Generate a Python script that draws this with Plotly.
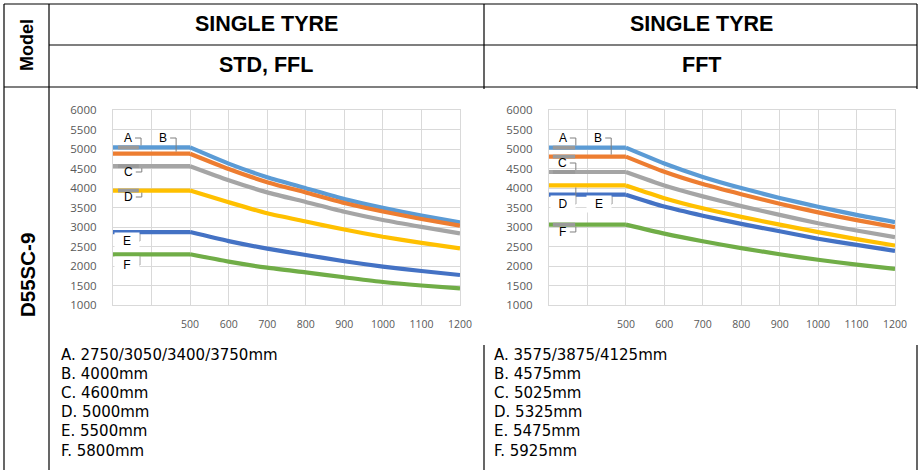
import plotly.graph_objects as go

W, H = 918, 470

# ---------------- data ----------------
load_centers = [300, 400, 500, 600, 700, 800, 900, 1000, 1100, 1200]
x_tick_text = ["", "", "500", "600", "700", "800", "900", "1000", "1100", "1200"]
y_tick_vals = [1000, 1500, 2000, 2500, 3000, 3500, 4000, 4500, 5000, 5500, 6000]

series_names = ["A", "B", "C", "D", "E", "F"]
series_colors = ["#5B9BD5", "#ED7D31", "#A5A5A5", "#FFC000", "#4472C4", "#70AD47"]

# STD, FFL  (capacity kg vs load centre mm)
std_A = [5040, 5040, 5040, 4625, 4275, 3995, 3715, 3490, 3295, 3120]
std_B = [4880, 4880, 4880, 4488, 4150, 3885, 3615, 3397, 3206, 3034]
std_C = [4560, 4560, 4560, 4200, 3888, 3640, 3390, 3180, 3004, 2838]
std_D = [3935, 3935, 3935, 3635, 3352, 3140, 2935, 2750, 2595, 2453]
std_E = [2870, 2870, 2870, 2638, 2445, 2282, 2122, 1985, 1871, 1769]
std_F = [2300, 2300, 2300, 2112, 1957, 1835, 1712, 1590, 1500, 1427]

# FFT
fft_A = [5035, 5035, 5035, 4630, 4285, 4000, 3745, 3520, 3310, 3125]
fft_B = [4805, 4805, 4805, 4415, 4100, 3840, 3595, 3375, 3175, 2995]
fft_C = [4410, 4410, 4410, 4065, 3785, 3535, 3310, 3095, 2910, 2740]
fft_D = [4065, 4065, 4065, 3740, 3480, 3260, 3060, 2870, 2690, 2525]
fft_E = [3830, 3830, 3830, 3525, 3290, 3080, 2890, 2700, 2540, 2388]
fft_F = [3060, 3060, 3060, 2830, 2635, 2460, 2300, 2160, 2035, 1925]

std_series = [std_A, std_B, std_C, std_D, std_E, std_F]
fft_series = [fft_A, fft_B, fft_C, fft_D, fft_E, fft_F]

# data-label positions (data coordinates)
std_label_x = [339, 430, 341, 341, 336, 336]
std_label_y = [5282, 5282, 4410, 3769, 2641, 2026]
std_label_boxed = [False, False, False, False, True, True]
fft_label_x = [336, 428, 336, 336, 430, 336]
fft_label_y = [5282, 5282, 4641, 3590, 3590, 2872]
fft_label_boxed = [False, False, False, True, True, False]

# small grey label-frame marks sitting on some lines
std_mark_series = ["A", "C", "D"]
std_mark_x = [313, 367]
fft_mark_series = ["A", "B", "C", "F"]
fft_mark_x = [310, 368]

legend_std = ["A. 2750/3050/3400/3750mm", "B. 4000mm", "C. 4600mm",
              "D. 5000mm", "E. 5500mm", "F. 5800mm"]
legend_fft = ["A. 3575/3875/4125mm", "B. 4575mm", "C. 5025mm",
              "D. 5325mm", "E. 5475mm", "F. 5925mm"]

header_top = "SINGLE TYRE"
header_left = "STD, FFL"
header_right = "FFT"
model_label = "Model"
model_name = "D55SC-9"

# ---------------- layout helpers ----------------
def px(x):
    return x / W

def py(y):
    return 1 - y / H

LEFT_PLOT = (113, 460)
RIGHT_PLOT = (549, 895)
PLOT_Y = (110, 305)
X_RANGE = [300, 1200]
Y_RANGE = [1000, 6000]
FLAT_END = 3  # number of points in the flat (rated) section

fig = go.Figure()

def add_chart(series, xa, ya, plot_px, label_x, label_y, boxed, mark_series, mark_x):
    ux = (X_RANGE[1] - X_RANGE[0]) / (plot_px[1] - plot_px[0])
    uy = (Y_RANGE[1] - Y_RANGE[0]) / (PLOT_Y[1] - PLOT_Y[0])
    for name, col, vals in zip(series_names, series_colors, series):
        fig.add_trace(go.Scatter(
            x=load_centers[:FLAT_END], y=vals[:FLAT_END], mode="lines", name=name,
            line=dict(color=col, width=4.2),
            xaxis=xa, yaxis=ya, showlegend=False, hoverinfo="x+y"))
        fig.add_trace(go.Scatter(
            x=load_centers[FLAT_END - 1:], y=vals[FLAT_END - 1:], mode="lines", name=name,
            line=dict(color=col, width=4.2, shape="spline", smoothing=0.6),
            xaxis=xa, yaxis=ya, showlegend=False, hoverinfo="x+y"))
    for name in mark_series:
        v = series[series_names.index(name)][0]
        fig.add_trace(go.Scatter(
            x=mark_x, y=[v, v], mode="lines",
            line=dict(color="#9a9a9a", width=3.8),
            xaxis=xa, yaxis=ya, showlegend=False, hoverinfo="skip"))
    for i, name in enumerate(series_names):
        lx, ly = label_x[i], label_y[i]
        fig.add_annotation(
            x=lx, y=ly, xref=xa, yref=ya, text=name, showarrow=False,
            font=dict(family="Liberation Sans", size=12, color="#000000"),
            bgcolor="white" if boxed[i] else "rgba(0,0,0,0)",
            width=22 if boxed[i] else None, height=14 if boxed[i] else None,
            xanchor="center", yanchor="middle")
        line_v = series[i][0]
        x1 = lx + 7 * ux
        x2 = lx + 13 * ux
        y_end = line_v + 2 * uy if ly > line_v else line_v - 2 * uy
        fig.add_shape(type="path", xref=xa, yref=ya,
                      path=f"M {x1},{ly} L {x2},{ly} L {x2},{y_end}",
                      line=dict(color="#7f7f7f", width=1))

add_chart(std_series, "x", "y", LEFT_PLOT, std_label_x, std_label_y,
          std_label_boxed, std_mark_series, std_mark_x)
add_chart(fft_series, "x2", "y2", RIGHT_PLOT, fft_label_x, fft_label_y,
          fft_label_boxed, fft_mark_series, fft_mark_x)

xaxis_common = dict(
    range=X_RANGE, tickmode="array", tickvals=load_centers, ticktext=x_tick_text,
    showgrid=True, gridcolor="#d9d9d9", gridwidth=1.3, zeroline=False,
    showline=True, linecolor="#d9d9d9", linewidth=1.3, mirror=True,
    ticks="", ticklabelstandoff=9, automargin=False,
    tickfont=dict(family="Open Sans", size=10.5, color="#595959"))
yaxis_common = dict(
    range=Y_RANGE, tickmode="array", tickvals=y_tick_vals,
    showgrid=True, gridcolor="#d9d9d9", gridwidth=1.3, zeroline=False,
    showline=True, linecolor="#d9d9d9", linewidth=1.3, mirror=True,
    ticks="", ticklabelstandoff=13, automargin=False,
    domain=[py(PLOT_Y[1]), py(PLOT_Y[0])],
    tickfont=dict(family="Open Sans", size=11.5, color="#595959"))

fig.update_layout(
    width=W, height=H, margin=dict(l=0, r=0, t=0, b=0, pad=0, autoexpand=False),
    paper_bgcolor="white", plot_bgcolor="white", showlegend=False,
    xaxis=dict(xaxis_common, domain=[px(LEFT_PLOT[0]), px(LEFT_PLOT[1])], anchor="y"),
    yaxis=dict(yaxis_common, anchor="x"),
    xaxis2=dict(xaxis_common, domain=[px(RIGHT_PLOT[0]), px(RIGHT_PLOT[1])], anchor="y2"),
    yaxis2=dict(yaxis_common, anchor="x2"),
)

# ---------------- table frame ----------------
def hline(y, x0, x1):
    fig.add_shape(type="line", xref="paper", yref="paper",
                  x0=px(x0), x1=px(x1), y0=py(y), y1=py(y),
                  line=dict(color="black", width=1.2))

def vline(x, y0, y1):
    fig.add_shape(type="line", xref="paper", yref="paper",
                  x0=px(x), x1=px(x), y0=py(y0), y1=py(y1),
                  line=dict(color="black", width=1.2))

hline(4, 4, 917)
hline(45, 49, 917)
hline(87, 4, 917)
vline(4, 4, 470)
vline(49, 4, 470)
vline(484, 4, 89)
vline(484, 345, 470)
vline(917, 4, 89)
vline(917, 345, 470)

hdr_font = dict(family="Liberation Sans", size=21.5, color="black", weight="bold")

def text(x, y, s, font, angle=0, xanchor="center"):
    fig.add_annotation(x=px(x), y=py(y), xref="paper", yref="paper", text=s,
                       showarrow=False, font=font, textangle=angle,
                       xanchor=xanchor, yanchor="middle")

text(266, 24, header_top, hdr_font)
text(701, 24, header_top, hdr_font)
text(266, 65, header_left, hdr_font)
text(701, 65, header_right, hdr_font)
text(27, 45, model_label, dict(family="Liberation Sans", size=18, color="black", weight="bold"), angle=-90)
text(27, 275, model_name, dict(family="Liberation Sans", size=20.5, color="black", weight="bold"), angle=-90)

leg_font = dict(family="DejaVu Sans", size=15, color="black")
for i, s in enumerate(legend_std):
    text(59, 355 + i * 19.1, s, leg_font, xanchor="left")
for i, s in enumerate(legend_fft):
    text(492, 355 + i * 19.1, s, leg_font, xanchor="left")

fig.write_html("out.html", config={"displayModeBar": False},
               post_script="document.documentElement.style.margin='0';document.body.style.margin='0';document.body.style.padding='0';document.documentElement.style.overflow='hidden';document.body.style.overflow='hidden';")
